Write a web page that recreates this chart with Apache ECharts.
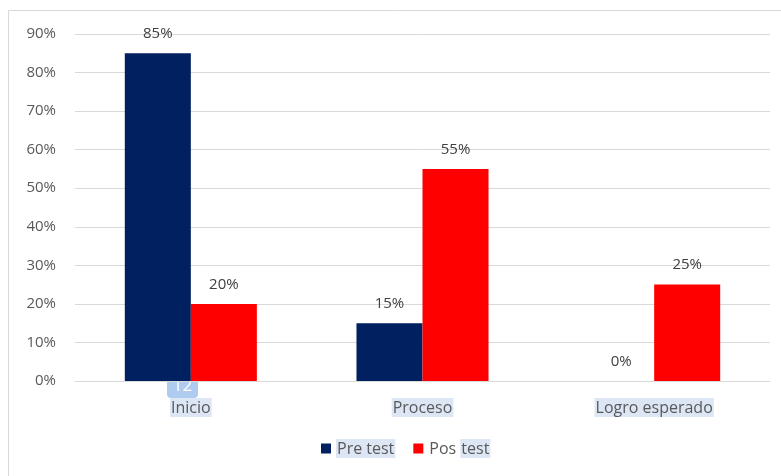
<!DOCTYPE html>
<html>
<head>
<meta charset="utf-8">
<script src="https://cdn.jsdelivr.net/npm/echarts@6/dist/echarts.min.js"></script>
<style>
  html, body { margin: 0; padding: 0; background: #fff; }
  #chart { width: 781px; height: 476px; }
</style>
</head>
<body>
<div id="chart"></div>
<script>
const categories = ['Inicio', 'Proceso', 'Logro esperado'];
const preTest = [85, 15, 0];
const posTest = [20, 55, 25];
const yTicks = { min: 0, max: 90, interval: 10 };

const FONT = '"Open Sans", Lato, sans-serif';
const TEXT = '#595959';
const HILITE = '#dce6f4';

const chart = echarts.init(document.getElementById('chart'), null, { renderer: 'canvas' });

chart.setOption({
  animation: false,
  backgroundColor: '#ffffff',
  textStyle: { fontFamily: FONT },
  graphic: [
    {
      type: 'rect',
      shape: { x: 8.5, y: 10.5, width: 790, height: 480 },
      style: { fill: 'none', stroke: '#d9d9d9', lineWidth: 1 },
      silent: true
    },
    {
      type: 'group',
      left: 167, top: 374,
      children: [
        { type: 'rect', shape: { x: 0, y: 0, width: 31, height: 24, r: 4 },
          style: { fill: 'rgba(150,185,235,0.75)' } },
        { type: 'text', style: { x: 15.5, y: 12, text: '12', fill: '#ffffff',
          font: '17px ' + FONT, align: 'center', verticalAlign: 'middle' } }
      ],
      z: 100
    }
  ],
  grid: { left: 75, right: 11, top: 34, bottom: 95, containLabel: false },
  legend: {
    bottom: 13,
    left: 316,
    itemWidth: 10,
    itemHeight: 10,
    itemGap: 18,
    icon: 'rect',
    textStyle: {
      color: TEXT, fontSize: 16, fontFamily: FONT,
      rich: {
        h: { backgroundColor: HILITE, color: TEXT, fontSize: 16, fontFamily: FONT, padding: [2, 1, 1, 1] },
        p: { color: TEXT, fontSize: 16, fontFamily: FONT, padding: [2, 0, 1, 1] }
      }
    },
    formatter: function (name) {
      if (name === 'Pos test') return '{p|Pos }{h|test}';
      return '{h|' + name + '}';
    },
    data: ['Pre test', 'Pos test']
  },
  xAxis: {
    type: 'category',
    data: categories,
    axisLine: { lineStyle: { color: '#d9d9d9', width: 1 } },
    axisTick: { show: false },
    axisLabel: {
      color: TEXT, fontSize: 16, fontFamily: FONT, margin: 17,
      backgroundColor: HILITE, padding: [2, 1, 1, 1]
    }
  },
  yAxis: {
    type: 'value',
    min: yTicks.min,
    max: yTicks.max,
    interval: yTicks.interval,
    axisLine: { show: false },
    axisTick: { show: false },
    splitLine: { lineStyle: { color: '#d9d9d9', width: 1 } },
    axisLabel: { color: TEXT, fontSize: 15, fontFamily: FONT, margin: 19, formatter: '{value}%' }
  },
  series: [
    {
      name: 'Pre test',
      type: 'bar',
      data: preTest,
      barGap: '0%',
      barCategoryGap: '43%',
      itemStyle: { color: '#002060' },
      label: { show: true, position: 'top', distance: 12, formatter: '{c}%',
        color: '#404040', fontSize: 15, fontFamily: FONT }
    },
    {
      name: 'Pos test',
      type: 'bar',
      data: posTest,
      barGap: '0%',
      barCategoryGap: '43%',
      itemStyle: { color: '#ff0000' },
      label: { show: true, position: 'top', distance: 12, formatter: '{c}%',
        color: '#404040', fontSize: 15, fontFamily: FONT }
    }
  ]
});
</script>
</body>
</html>
